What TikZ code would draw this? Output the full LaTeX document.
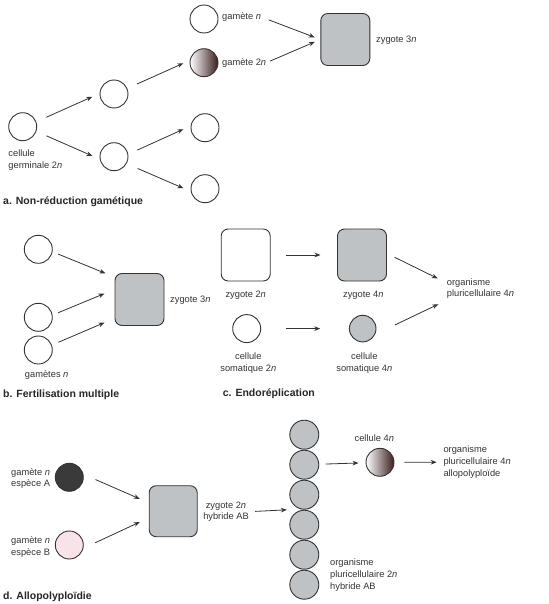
\documentclass[tikz,border=0pt]{standalone}
\usepackage{fontspec}
\setmainfont{Liberation Sans}
\usetikzlibrary{arrows.meta,calc}
\definecolor{linec}{HTML}{333333}
\definecolor{textc}{HTML}{333333}
\definecolor{cellgray}{HTML}{BFC2C5}
\definecolor{darkcell}{HTML}{3A3A3A}
\definecolor{pinkcell}{HTML}{F8E3E9}
\definecolor{gradmid}{HTML}{C9A3AA}
\definecolor{graddark}{HTML}{3A1E1F}
\newcommand\lblfont{\fontsize{9.3}{11.8}\selectfont}
\newcommand\ttlfont{\fontsize{10.5}{12}\selectfont\bfseries}
\tikzset{
  cell/.style={circle, draw=linec, line width=0.9pt, minimum size=28pt, inner sep=0pt, fill=white},
  cellgrad/.style={cell, left color=white, middle color=gradmid, right color=graddark},
  zyg/.style={rectangle, rounded corners=7pt, draw=linec, line width=0.9pt, minimum width=49pt, minimum height=52pt, inner sep=0pt},
  lbl/.style={inner sep=0pt, font=\lblfont, text=textc},
  ttl/.style={inner sep=0pt, font=\ttlfont, text=black!85},
  arr/.style={-{Stealth[length=6pt, width=4.6pt]}, line width=0.8pt, draw=linec},
}
\begin{document}
\begin{tikzpicture}[x=1pt, y=-1pt]
\useasboundingbox (0,0) rectangle (548,604);

% ---------- a ----------
\node[cell] (germ) at (22.7,126.7) {};
\node[lbl, align=left, anchor=west] (lgerm) at (8.3,159.9) {cellule\\germinale 2\textit{n}};
\node[cell] (m1) at (114,94) {};
\node[cell] (m2) at (114,156.7) {};
\node[cell] (gn) at (204,19) {};
\node[cellgrad] (g2n) at (204,62.7) {};
\node[cell] (c3) at (205,127.7) {};
\node[cell] (c4) at (205,188.7) {};
\node[zyg, fill=cellgray] (zyg3) at (345.3,39.5) {};
\node[lbl, anchor=west] (lzyg3) at (376,40) {zygote 3\textit{n}};
\node[lbl, anchor=west] (lgn) at (222,17) {gamète \textit{n}};
\node[lbl, anchor=west] (lg2n) at (222,62.7) {gamète 2\textit{n}};
\node[ttl, anchor=west] (ta) at (3,201.3) {a. Non-réduction gamétique};

\draw[arr, shorten <=11pt, shorten >=8pt] (germ.20) -- (m1.178);
\draw[arr, shorten <=11pt, shorten >=8pt] (germ.-19) -- (m2.190);
\draw[arr, shorten <=10.5pt, shorten >=7pt] (m1.23) -- (g2n.171);
\draw[arr, shorten <=10pt, shorten >=8pt] (m2.10) -- (c3.173);
\draw[arr, shorten <=12pt, shorten >=8pt] (m2.-29) -- (c4.191);
\draw[arr, shorten <=8pt, shorten >=6pt] (lgn.east) -- (zyg3.west);
\draw[arr, shorten <=4pt, shorten >=6pt] (lg2n.east) -- (zyg3.west);

% ---------- b ----------
\node[cell] (b1) at (38.3,249.3) {};
\node[cell] (b2) at (38.3,317.3) {};
\node[cell] (b3) at (38.3,350) {};
\node[zyg, fill=cellgray] (zb) at (139.5,299.5) {};
\node[lbl, anchor=west] (lzb) at (170,300) {zygote 3\textit{n}};
\node[lbl] (lgam) at (46.7,375.3) {gamètes \textit{n}};
\node[ttl, anchor=west] (tb) at (3,394.3) {b. Fertilisation multiple};

\draw[arr, shorten <=6pt, shorten >=9.8pt] (b1.-10) -- (zb.138.7);
\draw[arr, shorten <=6pt, shorten >=10.9pt] (b2.9) -- (zb.158);
\draw[arr, shorten <=7pt, shorten >=10.9pt] (b3.20) -- (zb.217);

% ---------- c ----------
\node[zyg, fill=white] (zc2) at (245.7,255) {};
\node[lbl] (lzc2) at (245.7,295) {zygote 2\textit{n}};
\node[zyg, fill=cellgray] (zc4) at (362,255) {};
\node[lbl] (lzc4) at (363.3,295) {zygote 4\textit{n}};
\node[cell] (cs2) at (246.7,328.6) {};
\node[cell, fill=cellgray, minimum size=26.6pt] (cs4) at (362.7,328.6) {};
\node[lbl, align=center] (lcs2) at (248.3,362.9) {cellule\\somatique 2\textit{n}};
\node[lbl, align=center] (lcs4) at (364.3,362.9) {cellule\\somatique 4\textit{n}};
\node[lbl, align=left, anchor=west] (org4) at (446.7,288.5) {organisme\\pluricellulaire 4\textit{n}};
\node[ttl, anchor=west] (tc) at (222.7,394) {c. Endoréplication};

\draw[arr, shorten <=15.3pt, shorten >=16.6pt] (zc2.east) -- (zc4.west);
\draw[arr, shorten <=25.3pt, shorten >=28.7pt] (cs2) -- (cs4);
\draw[arr, shorten <=8.5pt, shorten >=10pt] ([yshift=1.5pt]zc4.east) -- ([yshift=5.6pt]org4.west);
\draw[arr, shorten <=22pt, shorten >=9.3pt] (cs4.-25) -- ([yshift=-11.7pt]org4.west);

% ---------- d ----------
\node[cell, fill=darkcell] (gA) at (69.3,477.3) {};
\node[cell, fill=pinkcell] (gB) at (69.3,545) {};
\node[lbl, align=left, anchor=west] (lgA) at (11,478.5) {gamète \textit{n}\\espèce A};
\node[lbl, align=left, anchor=west] (lgB) at (11,547.2) {gamète \textit{n}\\espèce B};
\node[zyg, fill=cellgray, minimum width=48pt, minimum height=51pt] (zd) at (173.2,511.2) {};
\node[lbl, align=center] (lzd) at (226,511.7) {zygote 2\textit{n}\\hybride AB};
\foreach \i in {1,...,6}
  \node[cell, fill=cellgray, minimum size=29pt] (col\i) at (304.3,{434.7+30*(\i-1)}) {};
\node[cellgrad] (cell4) at (380,462.3) {};
\node[lbl] (lcell4) at (374.3,438.3) {cellule 4\textit{n}};
\node[lbl, align=left, anchor=west] (org4d) at (443.3,462.2) {organisme\\pluricellulaire 4\textit{n}\\allopolyploïde};
\node[lbl, align=left, anchor=west] (org2d) at (330,575) {organisme\\pluricellulaire 2\textit{n}\\hybride AB};
\node[ttl, anchor=west] (td) at (3,596.7) {d. Allopolyploïdie};

\draw[arr, shorten <=13.2pt, shorten >=9.8pt] (gA.12) -- ([yshift=8.4pt]zd.west);
\draw[arr, shorten <=12.9pt, shorten >=9.9pt] (gB.-13) -- ([yshift=-6.7pt]zd.west);
\draw[arr, shorten <=6.3pt, shorten >=2.5pt] (lzd.east) -- ($(col3.west)!0.5!(col4.west)$);
\draw[arr, shorten <=6.4pt, shorten >=7pt] (col2) -- (cell4);
\draw[arr, shorten <=10pt, shorten >=6.6pt] (cell4) -- (org4d.west);
\end{tikzpicture}
\end{document}
